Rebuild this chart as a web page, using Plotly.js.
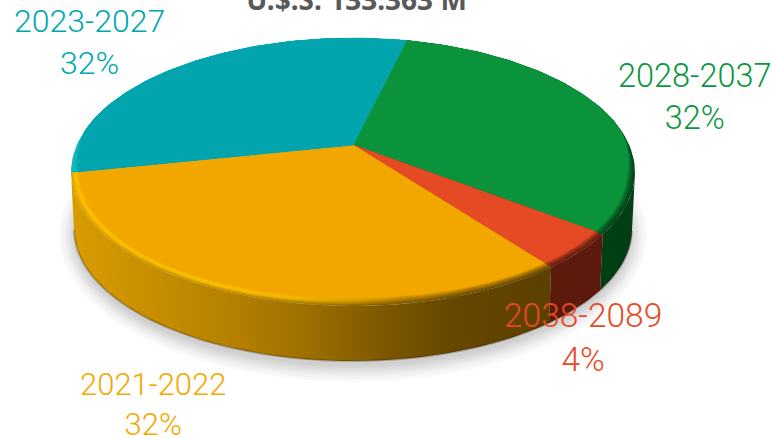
<!DOCTYPE html>
<html><head><meta charset="utf-8">
<script src="https://cdn.plot.ly/plotly-3.0.1.min.js"></script>
<style>html,body{margin:0;padding:0;background:#fff;overflow:hidden}#c{width:773px;height:439px}</style>
</head><body><div id="c"></div>
<script>
// ---- data (clockwise from the rotation start) ----
const categories = ['2028-2037', '2038-2089', '2021-2022', '2023-2027'];
const shares = [31.7, 4.3, 32.0, 32.0];
const shareLabels = ['32%', '4%', '32%', '32%'];
const chartTitle = 'U.$.S. 133.363 M';
const faceColors = ['#0A933B', '#E44A23', '#F2A700', '#02A4AD'];
const textColors = ['#0A963F', '#E64A24', '#F4A800', '#00A7AF'];
const rimLight = ['#0A933B', '#E44A23', '#FFC400', '#00BCC6'];
const wallStops = [
  [[0, '#003E14'], [1, '#003E14']],
  [[0, '#5C1A0C'], [1, '#5C1A0C']],
  [[0, '#D99C00'], [0.1, '#CC9200'], [0.3, '#B37F00'], [0.42, '#9C6F00'], [0.56, '#7C5700'], [0.68, '#664700'], [0.84, '#5C4000'], [1, '#5C4000']],
  [[0, '#C49000'], [1, '#C49000']]
];
const labelAnchors = [[695, 97], [583, 337], [153, 404], [89, 42]];
const labelSizes = [32.5, 33.5, 31, 32];

// ---- view geometry ----
const rotation = 13.4, apexX = 353, apexY = 145;
const kP = -0.2016, scaleA = 276.2, scaleB = 128.5;
const topC = [353, 172, 282, 134], botC = [353, 229, 279, 132];
const bevel = 8, bevelLevels = [1, 0.8, 0.6, 0.4, 0.2];

const hex = c => [1, 3, 5].map(i => parseInt(c.substr(i, 2), 16));
const mix = (a, b, t) => { const A = hex(a), B = hex(b);
  return '#' + A.map((v, i) => Math.round(v + (B[i] - v) * t).toString(16).padStart(2, '0')).join(''); };
function wallAt(i, f) { const s = wallStops[i];
  for (let j = 1; j < s.length; j++) if (f <= s[j][0]) {
    return mix(s[j - 1][1], s[j][1], (f - s[j - 1][0]) / ((s[j][0] - s[j - 1][0]) || 1)); }
  return s[s.length - 1][1]; }
const smooth = (a, b, x) => { const t = Math.min(1, Math.max(0, (x - a) / (b - a))); return t * t * (3 - 2 * t); };
function rim(deg) { const r = deg * Math.PI / 180, u = Math.sin(r), v = -Math.cos(r), w = 1 + kP * v;
  return [apexX + scaleA * u / w, apexY + scaleB * v / w]; }
function sinPhi(p) { return (p[1] - topC[1]) / topC[3]; }
function inset(p, t) { const wd = bevel * smooth(-0.4, 0.1, sinPhi(p)) * t;
  const dx = p[0] - apexX, dy = p[1] - apexY, L = Math.hypot(dx, dy), s = 1 - wd / L;
  return [apexX + dx * s, apexY + dy * s]; }
function lower(p) { const cp = Math.max(-1, Math.min(1, (p[0] - topC[0]) / topC[2]));
  const sp = Math.sqrt(Math.max(0, 1 - cp * cp));
  return [botC[0] + botC[2] * cp, botC[1] + botC[3] * sp]; }

const traces = [];
const base = { mode: 'lines', hoverinfo: 'skip', showlegend: false, line: { width: 0 } };
// soft shadow
const shadowSteps = [16, 13, 10, 8, 6, 4, 2, 0];
shadowSteps.forEach(d => {
  const xs = [], ys = [];
  for (let a = 0; a <= 360; a += 3) { const r = a * Math.PI / 180;
    xs.push(botC[0] + (botC[2] + d - 1) * Math.cos(r)); ys.push(botC[1] + 6 + (botC[3] + d - 1) * Math.sin(r)); }
  traces.push({ ...base, x: xs, y: ys, fill: 'toself', fillcolor: 'rgba(0,0,0,0.022)' });
});
// slice spans
const total = shares.reduce((a, b) => a + b, 0);
let acc = rotation; const spans = shares.map(s => { const a = acc; acc += s / total * 360; return [a, acc]; });
const arc = (a, b) => { const n = Math.max(4, Math.ceil((b - a) / 1.5)), o = [];
  for (let i = 0; i <= n; i++) o.push(rim(a + (b - a) * i / n)); return o; };
// walls
spans.forEach((sp, i) => {
  const pts = arc(sp[0], sp[1]).filter(p => sinPhi(p) >= 0);
  if (pts.length < 2) return;
  const lo = pts.map(lower), ring = pts.concat(lo.slice().reverse(), [pts[0]]);
  const extent = [topC[0] - topC[2], topC[0] + topC[2]];
  traces.push({ ...base, x: ring.map(p => p[0]), y: ring.map(p => p[1]), fill: 'toself',
    fillgradient: { type: 'horizontal', start: extent[0], stop: extent[1], colorscale: wallStops[i] } });
  traces.push({ ...base, x: lo.map(p => p[0]), y: lo.map(p => p[1]),
    line: { width: 2, color: 'rgba(50,30,0,0.28)' } });
});
// top: nested sectors, outermost bevel first, so no seams show
spans.forEach((sp, i) => {
  const pts = arc(sp[0], sp[1]);
  bevelLevels.concat([0]).forEach((lvl) => {
    const ins = lvl === 1 ? pts : pts.map(p => inset(p, 1 - lvl));
    const ring = [[apexX, apexY]].concat(ins, [[apexX, apexY]]);
    const t = { ...base, x: ring.map(p => p[0]), y: ring.map(p => p[1]), fill: 'toself' };
    if (lvl === 0) { t.fillcolor = faceColors[i]; t.line = { width: 0.6, color: faceColors[i] }; }
    else {
      const cs = [];
      for (let j = 0; j <= 10; j++) {
        const ff = j / 10, x = topC[0] - topC[2] + ff * 2 * topC[2];
        const h = 1 - smooth(250, 430, x);
        const hi = mix(mix(faceColors[i], wallAt(i, ff), i === 2 ? 0.55 : 0.6), rimLight[i], h);
        const c = lvl > 0.5 ? mix(hi, wallAt(i, ff), (lvl - 0.5) * 2 * (i === 3 ? 0.2 : 0.85))
                            : mix(faceColors[i], hi, lvl * 2);
        cs.push([ff, c]);
      }
      t.fillgradient = { type: 'horizontal', start: topC[0] - topC[2], stop: topC[0] + topC[2], colorscale: cs };
    }
    traces.push(t);
  });
});

const annotations = categories.map((c, i) => ({
  x: labelAnchors[i][0], y: labelAnchors[i][1], xref: 'x', yref: 'y', showarrow: false,
  text: c + '<br>' + shareLabels[i], align: 'center', xanchor: 'center', yanchor: 'middle',
  font: { family: 'Roboto, sans-serif', size: labelSizes[i], color: textColors[i], weight: 300 }
}));
const layout = {
  width: 773, height: 439, margin: { l: 0, r: 0, t: 0, b: 0 }, paper_bgcolor: '#fff', plot_bgcolor: '#fff',
  showlegend: false, hovermode: false,
  title: { text: chartTitle, x: 356.5 / 773, xanchor: 'center', y: 1.0, yanchor: 'middle',
    font: { family: '"Noto Sans", sans-serif', size: 28, color: '#595959', weight: 700 } },
  xaxis: { range: [0, 773], visible: false, fixedrange: true },
  yaxis: { range: [439, 0], visible: false, fixedrange: true },
  annotations
};
Plotly.newPlot('c', traces, layout, { displayModeBar: false, staticPlot: true });
</script></body></html>
